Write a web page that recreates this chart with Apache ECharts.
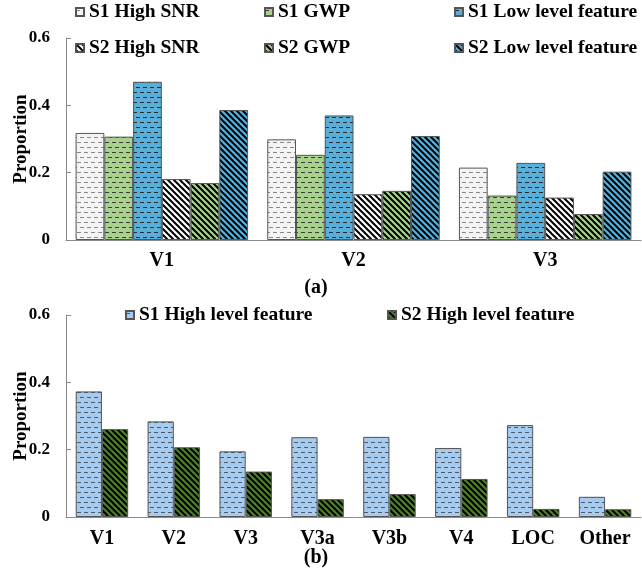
<!DOCTYPE html>
<html><head><meta charset="utf-8">
<script src="https://cdn.jsdelivr.net/npm/echarts@6/dist/echarts.min.js"></script>
<style>html,body{margin:0;padding:0;background:#fff}#c{width:642px;height:578px}</style>
</head><body><div id="c"></div>
<script>
const categoriesA = ['V1', 'V2', 'V3'];
const s1HighSNR = [0.318, 0.299, 0.215];
const s1GWP = [0.307, 0.253, 0.132];
const s1Low = [0.470, 0.370, 0.229];
const s2HighSNR = [0.181, 0.136, 0.126];
const s2GWP = [0.169, 0.146, 0.077];
const s2Low = [0.386, 0.309, 0.203];

const categoriesB = ['V1', 'V2', 'V3', 'V3a', 'V3b', 'V4', 'LOC', 'Other'];
const s1HighLevel = [0.373, 0.284, 0.195, 0.237, 0.238, 0.205, 0.273, 0.060];
const s2HighLevel = [0.261, 0.207, 0.135, 0.053, 0.068, 0.113, 0.024, 0.023];

const yTicks = [0, 0.2, 0.4, 0.6];

function dashPattern(bg, fg) {
  const c = document.createElement('canvas');
  c.width = 7; c.height = 10;
  const x = c.getContext('2d');
  x.fillStyle = bg; x.fillRect(0, 0, 7, 10);
  x.fillStyle = fg;
  x.fillRect(0, 2, 4, 1);
  x.fillRect(3, 7, 4, 1);
  return { image: c, repeat: 'repeat' };
}
function stripePattern(bg, fg) {
  const c = document.createElement('canvas');
  c.width = 6; c.height = 6;
  const x = c.getContext('2d');
  x.fillStyle = bg; x.fillRect(0, 0, 6, 6);
  x.strokeStyle = fg; x.lineWidth = 2;
  for (const o of [-6, 0, 6]) {
    x.beginPath(); x.moveTo(o - 1, -1); x.lineTo(o + 7, 7); x.stroke();
  }
  return { image: c, repeat: 'repeat' };
}

const FONT = 'Liberation Serif';
const white = '#f4f4f4', green = '#a9d18e', blue = '#58b0da', lblue = '#a7cbee', dgreen = '#507f2c';

function bar(name, data, color, xi, gap) {
  return {
    type: 'bar', name, data, xAxisIndex: xi, yAxisIndex: xi,
    barGap: '0%', barCategoryGap: gap,
    itemStyle: { color, borderColor: '#555', borderWidth: 1 },
    emphasis: { disabled: true }
  };
}

const legendCommon = {
  orient: 'vertical', itemWidth: 8, itemHeight: 8, itemGap: 16, icon: 'rect',
  textStyle: { fontFamily: FONT, fontWeight: 'bold', fontSize: 19.5, color: '#000' },
  selectedMode: false, padding: 0
};

function yAxis(gi) {
  return {
    type: 'value', gridIndex: gi, min: 0, max: 0.6, interval: 0.2,
    name: 'Proportion', nameLocation: 'middle', nameGap: 35, nameMoveOverlap: false,
    nameTextStyle: { fontFamily: FONT, fontWeight: 'bold', fontSize: 19, color: '#000' },
    axisLine: { show: true, lineStyle: { color: '#8a8a8a', width: 1 } },
    axisTick: { show: true, inside: true, length: 5, lineStyle: { color: '#8a8a8a' } },
    splitLine: { show: false },
    axisLabel: { fontFamily: FONT, fontWeight: 'bold', fontSize: 17, color: '#000', margin: 16,
      formatter: v => { const t = yTicks.find(t => Math.abs(t - v) < 1e-9); return t === 0 ? '0' : String(t); } }
  };
}
function xAxis(gi, cats, margin) {
  return {
    type: 'category', gridIndex: gi, data: cats,
    axisLine: { show: true, lineStyle: { color: '#8a8a8a', width: 1 } },
    axisTick: { show: false },
    axisLabel: { fontFamily: FONT, fontWeight: 'bold', fontSize: 20, color: '#000', margin }
  };
}

const chart = echarts.init(document.getElementById('c'), null, { renderer: 'canvas' });
chart.setOption({
  animation: false,
  backgroundColor: '#fff',
  grid: [
    { left: 66, top: 38, width: 575, height: 202, containLabel: false, outerBoundsMode: 'none' },
    { left: 66, top: 315, width: 575, height: 202, containLabel: false, outerBoundsMode: 'none' }
  ],
  legend: [
    Object.assign({}, legendCommon, { left: 75, top: 2, data: ['S1 High SNR', 'S2 High SNR'] }),
    Object.assign({}, legendCommon, { left: 264, top: 2, data: ['S1 GWP', 'S2 GWP'] }),
    Object.assign({}, legendCommon, { left: 454, top: 2, data: ['S1 Low level feature', 'S2 Low level feature'] }),
    Object.assign({}, legendCommon, { orient: 'horizontal', left: 125, top: 305, data: ['S1 High level feature'] }),
    Object.assign({}, legendCommon, { orient: 'horizontal', left: 387, top: 305, data: ['S2 High level feature'] })
  ],
  xAxis: [xAxis(0, categoriesA, 11), xAxis(1, categoriesB, 12)],
  yAxis: [yAxis(0), yAxis(1)],
  series: [
    bar('S1 High SNR', s1HighSNR, dashPattern(white, '#888'), 0, '10%'),
    bar('S1 GWP', s1GWP, dashPattern(green, '#3a3a3a'), 0, '10%'),
    bar('S1 Low level feature', s1Low, dashPattern(blue, '#2a2a2a'), 0, '10%'),
    bar('S2 High SNR', s2HighSNR, stripePattern('#ffffff', '#000'), 0, '10%'),
    bar('S2 GWP', s2GWP, stripePattern(green, '#000'), 0, '10%'),
    bar('S2 Low level feature', s2Low, stripePattern(blue, '#000'), 0, '10%'),
    bar('S1 High level feature', s1HighLevel, dashPattern(lblue, '#4a5a6a'), 1, '27%'),
    bar('S2 High level feature', s2HighLevel, stripePattern(dgreen, '#000'), 1, '27%')
  ],
  graphic: [
    { type: 'text', x: 316, y: 288, style: { text: '(a)', fontFamily: FONT, fontWeight: 'bold', fontSize: 20, fill: '#000', align: 'center', verticalAlign: 'middle' } },
    { type: 'text', x: 316, y: 558, style: { text: '(b)', fontFamily: FONT, fontWeight: 'bold', fontSize: 20, fill: '#000', align: 'center', verticalAlign: 'middle' } }
  ]
});
</script></body></html>
